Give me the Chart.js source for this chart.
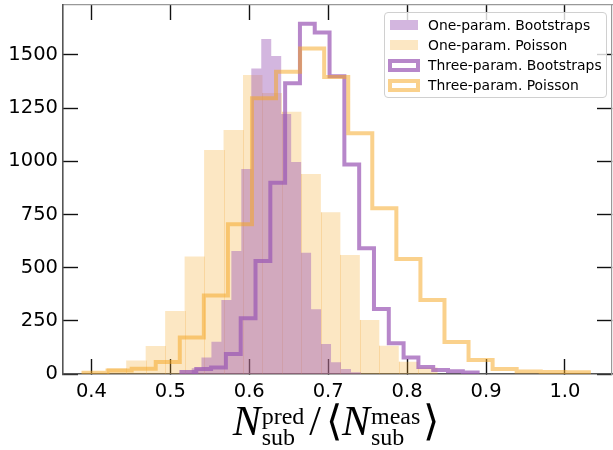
<!DOCTYPE html>
<html>
<head>
<meta charset="utf-8">
<script src="https://cdn.jsdelivr.net/npm/chart.js@4"></script>
<style>
  body { margin: 0; background: #fff; }
  #wrap { position: relative; width: 613px; height: 450px; }
  #legend {
    position: absolute; left: 384px; top: 12px; width: 221px; height: 84px;
    border: 1px solid #d0d0d0; border-radius: 4px; background: rgba(255,255,255,0.8);
    font-family: "DejaVu Sans", sans-serif; font-size: 13.9px; color: #000;
  }
  .row { position: absolute; left: 0; height: 20px; line-height: 20px; }
  .row .txt { position: absolute; left: 43px; top: 0; white-space: nowrap; }
  .patch { position: absolute; left: 5px; top: 5px; width: 28px; height: 10px; box-sizing: border-box; }
  .outline { left: 3px; top: 3.5px; width: 32px; height: 13px; border: 4px solid; background: #fff; }
  #xlabel {
    position: absolute; left: 0; width: 672px; top: 396px; text-align: center;
    font-family: "Liberation Serif", serif; font-size: 42px; color: #000; white-space: nowrap;
  }
  .ss { display: inline-block; vertical-align: -10px; font-size: 24px; line-height: 21px; text-align: left; margin-left: 1px; }
  .ss span { display: block; }
  .gap { display: inline-block; }
  .ang { font-weight: 300; }
</style>
</head>
<body>
<div id="wrap">
  <canvas id="hist"></canvas>
  <div id="legend"></div>
  <div id="xlabel"><i>N</i><span class="ss"><span>pred</span><span>sub</span></span><span class="gap" style="width:5px"></span>/<span class="gap" style="width:5px"></span><span class="ang">⟨</span><i>N</i><span class="ss"><span>meas</span><span>sub</span></span><span class="gap" style="width:3px"></span><span class="ang">⟩</span></div>
</div>
<script>
// histogram bins: first left edge and bin width, then counts per bin
const oneBootStart = 0.5268, oneBootWidth = 0.01263;
const oneBootCounts = [27, 77, 152, 348, 578, 964, 1437, 1575, 1495, 1222, 997, 570, 305, 141, 55, 23, 8];

const onePoisStart = 0.4194, onePoisWidth = 0.02467;
const onePoisCounts = [27, 63, 132, 296, 552, 1053, 1147, 1406, 1321, 1233, 940, 760, 560, 254, 133, 58, 30];

const threeBootStart = 0.5141, threeBootWidth = 0.018763;
const threeBootCounts = [9, 24, 30, 94, 262, 531, 899, 1367, 1647, 1606, 1400, 985, 591, 306, 145, 78, 33, 19, 13, 7];

const threePoisStart = 0.39, threePoisWidth = 0.03049;
const threePoisCounts = [6, 16, 25, 57, 172, 369, 704, 1296, 1421, 1531, 1396, 1132, 779, 541, 348, 150, 66, 23, 12, 9, 8];

const labels = ["One-param. Bootstraps", "One-param. Poisson", "Three-param. Bootstraps", "Three-param. Poisson"];
const xTicks = [0.4, 0.5, 0.6, 0.7, 0.8, 0.9, 1.0];
const yTicks = [0, 250, 500, 750, 1000, 1250, 1500];

const purpleFill = 'rgba(155,89,182,0.44)';
const orangeFill = 'rgba(245,166,35,0.27)';
const purpleLine = 'rgba(155,89,182,0.72)';
const orangeLine = 'rgba(245,166,35,0.52)';

function stepPoints(start, width, counts) {
  const pts = [{x: start, y: 0}];
  counts.forEach((c, i) => pts.push({x: start + i * width, y: c}));
  const end = start + counts.length * width;
  pts.push({x: end, y: counts[counts.length - 1]});
  pts.push({x: end, y: 0});
  return pts;
}

function histSet(label, pts, color, filled, order) {
  return {
    label: label, data: pts, stepped: 'before', pointRadius: 0, order: order,
    fill: filled ? 'origin' : false,
    backgroundColor: filled ? color : 'transparent',
    borderColor: filled ? 'transparent' : color,
    borderWidth: filled ? 0 : 4,
    borderJoinStyle: 'miter'
  };
}

// faint seams between neighbouring one-param Poisson bars, as matplotlib leaves them
const seams = {
  id: 'seams',
  beforeDatasetsDraw(chart) {
    const ctx = chart.ctx, xs = chart.scales.x, ys = chart.scales.y;
    ctx.save();
    ctx.strokeStyle = 'rgba(235,160,60,0.25)';
    ctx.lineWidth = 1;
    for (let i = 1; i < onePoisCounts.length; i++) {
      const px = Math.round(xs.getPixelForValue(onePoisStart + i * onePoisWidth)) + 0.5;
      const top = ys.getPixelForValue(Math.min(onePoisCounts[i - 1], onePoisCounts[i]));
      ctx.beginPath();
      ctx.moveTo(px, ys.getPixelForValue(0));
      ctx.lineTo(px, top);
      ctx.stroke();
    }
    ctx.restore();
  }
};

const tickFont = {family: 'DejaVu Sans', size: 19.5};
const inwardGrid = {drawOnChartArea: false, tickLength: -15, tickWidth: 1.4, tickColor: '#111'};
const spine = {color: '#555', width: 1.6};
const noPad = s => { s.paddingTop = 0; s.paddingBottom = 0; s.paddingLeft = 0; s.paddingRight = 0; };

new Chart(document.getElementById('hist'), {
  type: 'line',
  data: {
    datasets: [
      histSet(labels[3], stepPoints(threePoisStart, threePoisWidth, threePoisCounts), orangeLine, false, 1),
      histSet(labels[2], stepPoints(threeBootStart, threeBootWidth, threeBootCounts), purpleLine, false, 2),
      histSet(labels[0], stepPoints(oneBootStart, oneBootWidth, oneBootCounts), purpleFill, true, 3),
      histSet(labels[1], stepPoints(onePoisStart, onePoisWidth, onePoisCounts), orangeFill, true, 4)
    ]
  },
  plugins: [seams],
  options: {
    responsive: true,
    maintainAspectRatio: false,
    animation: false,
    layout: {padding: 0},
    plugins: {legend: {display: false}, tooltip: {enabled: false}},
    scales: {
      x: {
        type: 'linear', position: 'bottom', min: 0.364, max: 1.0596,
        afterBuildTicks: s => { s.ticks = xTicks.map(v => ({value: v})); },
        ticks: {font: tickFont, color: '#000', padding: 21, maxRotation: 0, callback: v => v.toFixed(1)},
        grid: inwardGrid, border: spine,
        afterFit: s => { s.height = 76; noPad(s); }
      },
      xTop: {
        type: 'linear', position: 'top', min: 0.364, max: 1.0596,
        afterBuildTicks: s => { s.ticks = xTicks.map(v => ({value: v})); },
        ticks: {display: false}, grid: inwardGrid, border: {color: '#999', width: 1.2},
        afterFit: s => { s.height = 5; noPad(s); }
      },
      y: {
        type: 'linear', position: 'left', min: 0, max: 1735,
        afterBuildTicks: s => { s.ticks = yTicks.map(v => ({value: v})); },
        ticks: {font: tickFont, color: '#000', padding: 20, callback: v => String(v)},
        grid: inwardGrid, border: spine,
        afterFit: s => { s.width = 63; noPad(s); }
      },
      yRight: {
        type: 'linear', position: 'right', min: 0, max: 1735,
        afterBuildTicks: s => { s.ticks = yTicks.map(v => ({value: v})); },
        ticks: {display: false}, grid: inwardGrid, border: {color: '#999', width: 1.2},
        afterFit: s => { s.width = 1; noPad(s); }
      }
    }
  }
});

// legend inside the plot, upper right
const legendItems = [
  {text: labels[0], color: purpleFill, outline: false},
  {text: labels[1], color: orangeFill, outline: false},
  {text: labels[2], color: purpleLine, outline: true},
  {text: labels[3], color: orangeLine, outline: true}
];
const legend = document.getElementById('legend');
legendItems.forEach((it, i) => {
  const row = document.createElement('div');
  row.className = 'row';
  row.style.top = (2 + i * 20) + 'px';
  const p = document.createElement('div');
  p.className = it.outline ? 'patch outline' : 'patch';
  if (it.outline) p.style.borderColor = it.color; else p.style.background = it.color;
  const t = document.createElement('span');
  t.className = 'txt';
  t.textContent = it.text;
  row.appendChild(p);
  row.appendChild(t);
  legend.appendChild(row);
});
</script>
</body>
</html>
